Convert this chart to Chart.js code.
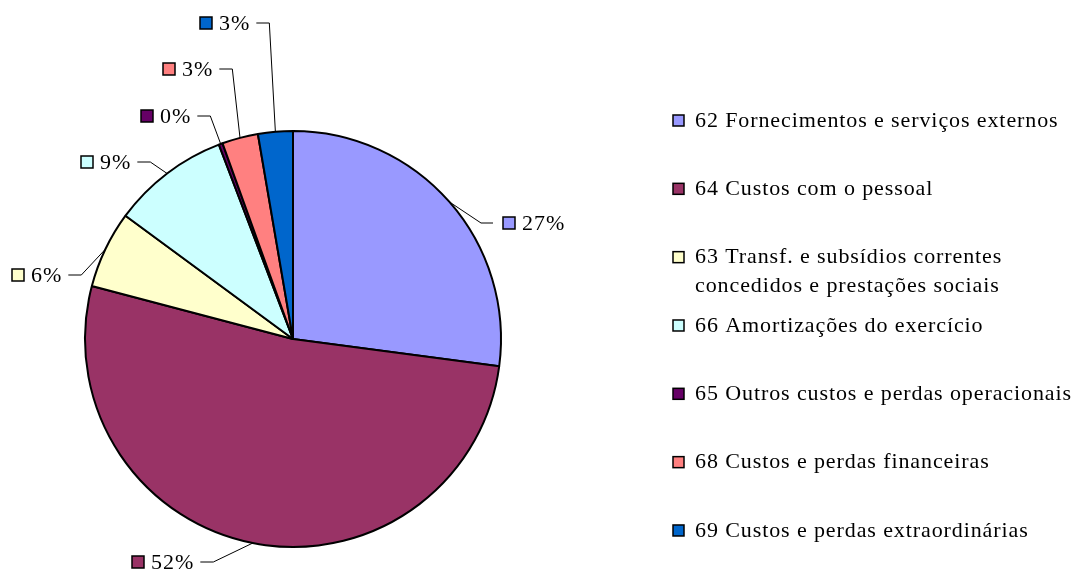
<!DOCTYPE html>
<html lang="pt">
<head>
    <meta charset="UTF-8">
    <title>Distribuição dos custos</title>
    <script src="https://cdn.jsdelivr.net/npm/chart.js"></script>
    <style>
        html, body {
            margin: 0;
            padding: 0;
            background: #ffffff;
        }
        #wrap {
            position: relative;
            width: 1084px;
            height: 572px;
        }
    </style>
</head>
<body>
    <div id="wrap">
        <canvas id="pie-chart" width="1084" height="572"></canvas>
    </div>

    <script>
        // data (percent of total costs)
        const categories = [
            '62 Fornecimentos e serviços externos',
            '64 Custos com o pessoal',
            '63 Transf. e subsídios correntes concedidos e prestações sociais',
            '66 Amortizações do exercício',
            '65 Outros custos e perdas operacionais',
            '68 Custos e perdas financeiras',
            '69 Custos e perdas extraordinárias'
        ];
        const legendLines = [
            ['62 Fornecimentos e serviços externos'],
            ['64 Custos com o pessoal'],
            ['63 Transf. e subsídios correntes', 'concedidos e prestações sociais'],
            ['66 Amortizações do exercício'],
            ['65 Outros custos e perdas operacionais'],
            ['68 Custos e perdas financeiras'],
            ['69 Custos e perdas extraordinárias']
        ];
        const shares = [27.1, 52.0, 6.0, 9.1, 0.3, 2.8, 2.7];
        const colors = ['#9999ff', '#993366', '#ffffcc', '#ccffff', '#660066', '#ff8080', '#0066cc'];

        // where each percent label sits: square left x, text middle y, side of the pie
        const labelSpots = [
            { x: 503, y: 223, side: 'right' },
            { x: 132, y: 562, side: 'left' },
            { x: 12,  y: 275, side: 'left' },
            { x: 81,  y: 162, side: 'left' },
            { x: 141, y: 116, side: 'left' },
            { x: 163, y: 69,  side: 'left' },
            { x: 200, y: 23,  side: 'left' }
        ];

        const FONT = '"Liberation Serif", "Times New Roman", serif';

        function square(ctx, x, y, size, fill) {
            ctx.fillStyle = fill;
            ctx.fillRect(x, y, size, size);
            ctx.lineWidth = 1.5;
            ctx.strokeStyle = '#000000';
            ctx.strokeRect(x, y, size, size);
        }

        const labelsAndLegend = {
            id: 'labelsAndLegend',
            afterDraw(chart) {
                const ctx = chart.ctx;
                const arcs = chart.getDatasetMeta(0).data;
                ctx.save();
                ctx.textBaseline = 'middle';
                ctx.textAlign = 'left';

                // percent labels with leader lines
                ctx.font = '22px ' + FONT;
                ctx.letterSpacing = '1px';
                arcs.forEach((arc, i) => {
                    const spot = labelSpots[i];
                    const text = Math.round(shares[i]) + '%';
                    const sq = 12;
                    square(ctx, spot.x, spot.y - sq / 2, sq, colors[i]);
                    ctx.fillStyle = '#000000';
                    const tx = spot.x + sq + 7;
                    ctx.fillText(text, tx, spot.y + 1);
                    const tw = ctx.measureText(text).width;

                    const mid = (arc.startAngle + arc.endAngle) / 2;
                    const px = arc.x + Math.cos(mid) * arc.outerRadius;
                    const py = arc.y + Math.sin(mid) * arc.outerRadius;

                    let x0, x1;
                    if (spot.side === 'right') {
                        x0 = spot.x - 10;
                        x1 = x0 - 12;
                    } else {
                        x0 = tx + tw + 6;
                        x1 = x0 + 13;
                    }
                    ctx.beginPath();
                    ctx.moveTo(x0, spot.y);
                    ctx.lineTo(x1, spot.y);
                    ctx.lineTo(px, py);
                    ctx.lineWidth = 1;
                    ctx.strokeStyle = '#000000';
                    ctx.stroke();
                });

                // legend on the right
                ctx.font = '22px ' + FONT;
                ctx.letterSpacing = '0.9px';
                const lx = 673, top = 120, step = 68.33, lineGap = 29;
                legendLines.forEach((lines, i) => {
                    const y = top + i * step;
                    square(ctx, lx, y - 5, 11, colors[i]);
                    ctx.fillStyle = '#000000';
                    lines.forEach((ln, k) => {
                        ctx.fillText(ln, lx + 22, y + k * lineGap + 1);
                    });
                });
                ctx.restore();
            }
        };

        const pieCtx = document.getElementById('pie-chart').getContext('2d');
        const pieChart = new Chart(pieCtx, {
            type: 'pie',
            data: {
                labels: categories,
                datasets: [{
                    data: shares,
                    backgroundColor: colors,
                    borderColor: '#000000',
                    borderWidth: 2
                }]
            },
            options: {
                responsive: false,
                animation: false,
                layout: {
                    padding: { left: 84, right: 582, top: 130, bottom: 24 }
                },
                plugins: {
                    legend: { display: false },
                    tooltip: { enabled: false }
                }
            },
            plugins: [labelsAndLegend]
        });
    </script>
</body>
</html>
